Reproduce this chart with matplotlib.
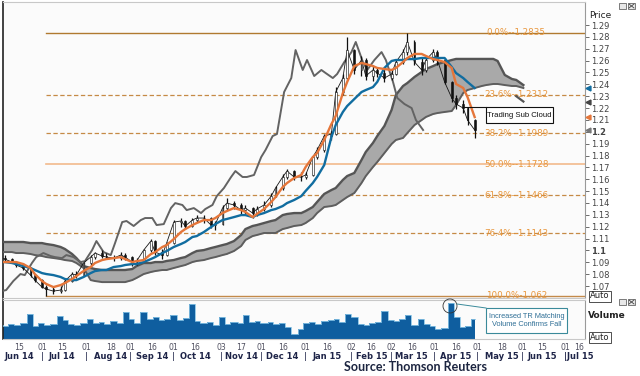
import matplotlib
matplotlib.use("Agg")
import matplotlib.pyplot as plt
import matplotlib.dates as mdates
import numpy as np
import pandas as pd
from matplotlib.patches import Rectangle, Ellipse
from matplotlib.transforms import blended_transform_factory

# ---------------- data ----------------
dates = pd.bdate_range('2014-06-02', '2015-04-29')[::3]
cloud_dates = pd.bdate_range('2014-06-02', '2015-06-02')[::3]

close = [1.0935, 1.0927, 1.0902, 1.0877, 1.0851, 1.0792, 1.0750, 1.0691, 1.0674, 1.0657,
         1.0666, 1.0742, 1.0801, 1.0792, 1.0894, 1.0944, 1.0978, 1.0953, 1.0944, 1.0935,
         1.0961, 1.0944, 1.0902, 1.0910, 1.1003, 1.1079, 1.0986, 1.0961, 1.1062, 1.1239,
         1.1248, 1.1206, 1.1256, 1.1273, 1.1273, 1.1214, 1.1222, 1.1357, 1.1399, 1.1383,
         1.1340, 1.1357, 1.1315, 1.1349, 1.1383, 1.1458, 1.1526, 1.1619, 1.1669, 1.1619,
         1.1619, 1.1636, 1.1787, 1.1846, 1.1964, 1.1981, 1.2335, 1.2453, 1.2689, 1.2521,
         1.2605, 1.2470, 1.2521, 1.2495, 1.2453, 1.2487, 1.2588, 1.2672, 1.2757, 1.2588,
         1.2521, 1.2605, 1.2672, 1.2605, 1.2420, 1.2285, 1.2234, 1.2200, 1.2099, 1.2015]

high = [1.0950, 1.0960, 1.0940, 1.0915, 1.0890, 1.0860, 1.0800, 1.0760, 1.0705, 1.0690,
        1.0700, 1.0760, 1.0815, 1.0830, 1.0905, 1.0965, 1.0990, 1.1000, 1.0975, 1.0960,
        1.0985, 1.0975, 1.0950, 1.0935, 1.1015, 1.1100, 1.1090, 1.1010, 1.1075, 1.1255,
        1.1270, 1.1260, 1.1275, 1.1300, 1.1295, 1.1285, 1.1250, 1.1380, 1.1440, 1.1420,
        1.1400, 1.1385, 1.1370, 1.1375, 1.1420, 1.1480, 1.1545, 1.1640, 1.1690, 1.1680,
        1.1660, 1.1665, 1.1800, 1.1870, 1.1985, 1.2010, 1.2380, 1.2490, 1.2795, 1.2700,
        1.2640, 1.2620, 1.2560, 1.2550, 1.2530, 1.2520, 1.2610, 1.2700, 1.2835, 1.2770,
        1.2620, 1.2640, 1.2700, 1.2690, 1.2620, 1.2430, 1.2310, 1.2265, 1.2210, 1.2110]

low = [1.0905, 1.0915, 1.0890, 1.0860, 1.0835, 1.0780, 1.0735, 1.0680, 1.0620, 1.0630,
       1.0640, 1.0660, 1.0735, 1.0770, 1.0785, 1.0880, 1.0925, 1.0940, 1.0925, 1.0915,
       1.0920, 1.0920, 1.0870, 1.0880, 1.0900, 1.0990, 1.0960, 1.0930, 1.0955, 1.1050,
       1.1200, 1.1180, 1.1195, 1.1240, 1.1230, 1.1190, 1.1170, 1.1215, 1.1340, 1.1345,
       1.1310, 1.1300, 1.1270, 1.1290, 1.1330, 1.1370, 1.1450, 1.1510, 1.1600, 1.1590,
       1.1585, 1.1600, 1.1630, 1.1770, 1.1830, 1.1930, 1.1970, 1.2310, 1.2440, 1.2490,
       1.2470, 1.2440, 1.2430, 1.2465, 1.2420, 1.2440, 1.2480, 1.2570, 1.2650, 1.2560,
       1.2480, 1.2500, 1.2590, 1.2560, 1.2400, 1.2250, 1.2190, 1.2160, 1.2060, 1.1950]

tenkan = [1.0902, 1.0902, 1.0902, 1.0902, 1.0885, 1.0851, 1.0801, 1.0742, 1.0717, 1.0691,
          1.0708, 1.0725, 1.0759, 1.0784, 1.0826, 1.0860, 1.0894, 1.0919, 1.0927, 1.0935,
          1.0944, 1.0927, 1.0902, 1.0910, 1.0919, 1.0969, 1.0986, 1.1029, 1.1045, 1.1096,
          1.1155, 1.1180, 1.1214, 1.1231, 1.1256, 1.1256, 1.1273, 1.1315, 1.1332, 1.1357,
          1.1340, 1.1324, 1.1281, 1.1307, 1.1349, 1.1408, 1.1450, 1.1534, 1.1568, 1.1610,
          1.1636, 1.1703, 1.1787, 1.1821, 1.1931, 1.2065, 1.2133, 1.2327, 1.2420, 1.2554,
          1.2580, 1.2571, 1.2554, 1.2538, 1.2529, 1.2521, 1.2538, 1.2588, 1.2622, 1.2656,
          1.2656, 1.2639, 1.2613, 1.2605, 1.2588, 1.2538, 1.2403, 1.2369, 1.2293, 1.2124]

kijun = [1.0902, 1.0902, 1.0894, 1.0885, 1.0868, 1.0851, 1.0835, 1.0809, 1.0801, 1.0792,
         1.0776, 1.0759, 1.0750, 1.0750, 1.0776, 1.0809, 1.0826, 1.0835, 1.0835, 1.0860,
         1.0868, 1.0877, 1.0885, 1.0885, 1.0902, 1.0927, 1.0944, 1.0978, 1.0995, 1.1029,
         1.1054, 1.1071, 1.1113, 1.1121, 1.1155, 1.1197, 1.1222, 1.1256, 1.1265, 1.1281,
         1.1298, 1.1298, 1.1281, 1.1298, 1.1315, 1.1340, 1.1349, 1.1374, 1.1399, 1.1425,
         1.1458, 1.1501, 1.1568, 1.1619, 1.1720, 1.1956, 1.2057, 1.2167, 1.2217, 1.2276,
         1.2335, 1.2352, 1.2377, 1.2420, 1.2538, 1.2597, 1.2605, 1.2605, 1.2613, 1.2613,
         1.2622, 1.2622, 1.2622, 1.2622, 1.2622, 1.2546, 1.2495, 1.2453, 1.2420, 1.2369]

span_a = [1.1071, 1.1071, 1.1071, 1.1071, 1.1071, 1.1062, 1.1062, 1.1062, 1.1054, 1.1045,
          1.1029, 1.1012, 1.0970, 1.0936, 1.0868, 1.0852, 1.0843, 1.0835, 1.0835, 1.0835,
          1.0835, 1.0835, 1.0843, 1.0868, 1.0894, 1.0894, 1.0902, 1.0902, 1.0911, 1.0919,
          1.0936, 1.0944, 1.0978, 1.0995, 1.1003, 1.1020, 1.1029, 1.1045, 1.1054, 1.1079,
          1.1130, 1.1180, 1.1206, 1.1214, 1.1231, 1.1248, 1.1256, 1.1298, 1.1307, 1.1315,
          1.1315, 1.1332, 1.1366, 1.1408, 1.1476, 1.1509, 1.1526, 1.1594, 1.1627, 1.1653,
          1.1762, 1.1830, 1.1906, 1.1964, 1.2049, 1.2184, 1.2310, 1.2386, 1.2411, 1.2462,
          1.2504, 1.2529, 1.2554, 1.2571, 1.2588, 1.2605, 1.2614, 1.2614, 1.2614, 1.2614,
          1.2614, 1.2614, 1.2614, 1.2597, 1.2479, 1.2445, 1.2437, 1.2394]

span_b = [1.0986, 1.0986, 1.0986, 1.0978, 1.0978, 1.0970, 1.0961, 1.0953, 1.0944, 1.0936,
          1.0927, 1.0919, 1.0911, 1.0894, 1.0852, 1.0750, 1.0742, 1.0733, 1.0733, 1.0733,
          1.0733, 1.0733, 1.0750, 1.0768, 1.0801, 1.0818, 1.0826, 1.0835, 1.0835, 1.0852,
          1.0868, 1.0877, 1.0902, 1.0911, 1.0919, 1.0936, 1.0944, 1.0961, 1.0970, 1.0995,
          1.1037, 1.1088, 1.1121, 1.1130, 1.1147, 1.1147, 1.1147, 1.1180, 1.1189, 1.1206,
          1.1214, 1.1231, 1.1273, 1.1315, 1.1366, 1.1374, 1.1383, 1.1425, 1.1450, 1.1484,
          1.1568, 1.1627, 1.1703, 1.1745, 1.1821, 1.1897, 1.1931, 1.1948, 1.1990, 1.2057,
          1.2099, 1.2125, 1.2150, 1.2158, 1.2167, 1.2175, 1.2226, 1.2327, 1.2352, 1.2369,
          1.2386, 1.2394, 1.2403, 1.2403, 1.2394, 1.2386, 1.2386, 1.2369]

span_tail = [1.2300, 1.2255]

volume = [14, 13, 15, 14, 16, 25, 13, 16, 14, 15, 23, 19, 15, 14, 16, 20, 16, 17, 15, 18,
          16, 27, 20, 16, 27, 20, 22, 19, 20, 24, 19, 21, 35, 18, 16, 17, 14, 22, 15, 17,
          16, 24, 17, 18, 16, 17, 15, 16, 12, 5, 10, 16, 17, 15, 18, 19, 20, 17, 25, 22,
          15, 14, 16, 17, 28, 19, 18, 20, 24, 14, 20, 15, 13, 10, 11, 36, 22, 12, 13, 20]

fib_pct = ['0.0%', '23.6%', '38.2%', '50.0%', '61.8%', '76.4%', '100.0%']
fib_val = [1.2835, 1.2312, 1.1989, 1.1728, 1.1466, 1.1143, 1.062]

day_ticks = ['2014-06-15', '2014-07-01', '2014-07-15', '2014-08-01', '2014-08-18', '2014-09-01',
             '2014-09-16', '2014-10-01', '2014-10-16', '2014-11-03', '2014-11-17', '2014-12-01',
             '2014-12-16', '2015-01-01', '2015-01-16', '2015-02-02', '2015-02-16', '2015-03-02',
             '2015-03-16', '2015-04-01', '2015-04-16', '2015-05-01', '2015-05-18', '2015-06-01',
             '2015-06-15', '2015-07-01', '2015-07-16']
month_ticks = ['2014-06-15', '2014-07-15', '2014-08-18', '2014-09-16', '2014-10-16', '2014-11-17',
               '2014-12-16', '2015-01-16', '2015-02-16', '2015-03-16', '2015-04-16', '2015-05-18',
               '2015-06-15']
month_starts = ['2014-07-01', '2014-08-01', '2014-09-01', '2014-10-01', '2014-11-03', '2014-12-01',
                '2015-01-01', '2015-02-02', '2015-03-02', '2015-04-01', '2015-05-01', '2015-06-01']
last_month = '2015-07-01'

# ---------------- figure ----------------
W, H = 640, 376
fig = plt.figure(figsize=(6.4, 3.76), dpi=100)
fig.patch.set_facecolor('white')

def box(l, t, r, b):
    return [l / W, 1 - b / H, (r - l) / W, (b - t) / H]

ax = fig.add_axes(box(3, 2, 585, 298))
axv = fig.add_axes(box(3, 300, 585, 339))
ov = fig.add_axes([0, 0, 1, 1], zorder=10)
ov.set_xlim(0, W); ov.set_ylim(H, 0); ov.axis('off'); ov.patch.set_alpha(0)

x = mdates.date2num(dates)
xc = mdates.date2num(cloud_dates)
x_lag = mdates.date2num(dates - pd.offsets.BDay(26))
x0 = mdates.date2num(pd.Timestamp('2014-06-02'))
xlim = (x0 + 1.8, x0 + 408)

for a in (ax, axv):
    a.set_xlim(*xlim)
    a.set_facecolor('#fbfbfb')
    a.set_xticks([])
    for s in ('top', 'bottom', 'right'):
        a.spines[s].set_color('#c8c8c8')
        a.spines[s].set_linewidth(0.8)
    a.spines['left'].set_color('#222222')
    a.spines['left'].set_linewidth(1.2)
ax.spines['right'].set_color('#9a9a9a')
axv.spines['right'].set_color('#9a9a9a')

ax.set_ylim(1.0599, 1.3094)

# Fibonacci levels
x_fib0 = x[int(np.argmin(low))]
fib_style = {'0.0%': ('-', '#b07a30', 1.0), '50.0%': ('-', '#f2b98c', 1.2), '100.0%': ('-', '#c38a4a', 1.0)}
for pct, val in zip(fib_pct, fib_val):
    ls, col, lw = fib_style.get(pct, ('--', '#c58a45', 0.9))
    line, = ax.plot([x_fib0, xlim[1]], [val, val], ls, color=col, lw=lw, zorder=1)
    if ls == '--':
        line.set_dashes((3.5, 2))
    lab = f"{pct}--{val}" if pct != '100.0%' else f"{pct}-{val}"
    ax.text(xlim[1] - 48, val, lab, color='#e8963c', fontsize=6.3, ha='center', va='center', zorder=2)

# Cloud
ax.fill_between(xc, span_a, span_b, color='#a9a9a9', lw=0, zorder=2)
ax.plot(xc, span_a, color='#555555', lw=1.7, zorder=3)
ax.plot(xc, span_b, color='#5e5e5e', lw=1.4, zorder=3)
ax.plot(xc[-2:], span_tail, color='#555555', lw=1.6, zorder=3)

# Lagging span
ax.plot(x_lag, close, color='#636363', lw=1.4, zorder=4)

# Candles
opens = [close[0]] + close[:-1]
ax.plot(x, close, color='#151515', lw=0.6, zorder=5)
ax.vlines(x, low, high, color='#111111', lw=0.9, zorder=5)
body_col = ['white' if c >= o else '#111111' for o, c in zip(opens, close)]
ax.bar(x, np.array(close) - np.array(opens), bottom=opens, width=1.3, color=body_col,
       edgecolor='#111111', lw=0.4, zorder=5)

# Kijun / Tenkan
ax.plot(x, kijun, color='#116da0', lw=1.7, zorder=6)
ax.plot(x, tenkan, color='#e5763a', lw=1.7, zorder=7)

# price axis
ax.yaxis.set_ticks_position('right')
yt = np.round(np.arange(1.07, 1.2951, 0.01), 2)
ax.set_yticks(yt)
labs = [(f"{v:.1f}" if abs(v * 10 - round(v * 10)) < 1e-6 else f"{v:.2f}") for v in yt]
ax.set_yticklabels(labs)
for t, v in zip(ax.get_yticklabels(), yt):
    if abs(v * 10 - round(v * 10)) < 1e-6:
        t.set_fontweight('bold')
ax.tick_params(axis='y', direction='out', length=3, width=0.6, colors='#555555', labelsize=6, pad=1.5)
for t in ax.get_yticklabels():
    t.set_color('#444444')

# last value markers
mk_tr = blended_transform_factory(ax.transAxes, ax.transData)
for val, col in [(kijun[-1], '#116da0'), (span_tail[-1], '#444444'), (tenkan[-1], '#e5763a'), (close[-1], '#777777')]:
    ax.plot([1.006], [val], marker='<', ms=3.5, color=col, transform=mk_tr, clip_on=False, zorder=8)

# Volume
axv.set_ylim(0, 38.5)
axv.set_yticks([])
axv.fill_between(x, volume, 0, step='mid', color='#0f5e9f', lw=0, zorder=2)
axv.step(x, volume, where='mid', color='#86c2e4', lw=0.6, zorder=3)

# ---------- annotations / decorations (pixel overlay) ----------
ov.plot([463, 486], [107, 107], color='#111111', lw=0.8)
ov.add_patch(Rectangle((486, 107), 67, 16, facecolor='white', edgecolor='#111111', lw=0.8))
ov.text(519.5, 115.5, 'Trading Sub Cloud', fontsize=5.6, ha='center', va='center', color='#111111',
        family='Liberation Sans')

ov.add_patch(Ellipse((450, 306), 14, 14, facecolor='none', edgecolor='#333333', lw=0.6))
ov.plot([457, 486], [304, 308], color='#3a8a9a', lw=0.7)
ov.add_patch(Rectangle((486, 308), 81, 25, facecolor='white', edgecolor='#3a8a9a', lw=0.8))
ov.text(526.5, 320.5, 'Increased TR Matching\nVolume Confirms Fall', fontsize=5.3, ha='center',
        va='center', color='#2f6f96', linespacing=1.35, family='Liberation Sans')

ov.text(589, 16, 'Price', fontsize=6.5, ha='left', va='center', color='#222222')
ov.text(588, 315, 'Volume', fontsize=6.5, ha='left', va='center', color='#222222', fontweight='bold')
for yy in (296, 337):
    ov.text(590, yy, 'Auto', fontsize=6, ha='left', va='center', color='#222222',
            bbox=dict(boxstyle='square,pad=0.12', facecolor='white', edgecolor='#333333', lw=0.6))
for (ix, iy) in [(619, 3), (628, 3), (619, 299), (628, 299)]:
    ov.add_patch(Rectangle((ix, iy), 7, 6, facecolor='#e8e8e8', edgecolor='#666666', lw=0.6))
for ix, iy in [(628, 3), (628, 299)]:
    ov.plot([ix + 1, ix + 6], [iy + 1, iy + 5], color='#444444', lw=0.6)
    ov.plot([ix + 1, ix + 6], [iy + 5, iy + 1], color='#444444', lw=0.6)

# date labels
tr = blended_transform_factory(axv.transData, ov.transData)
for d in day_ticks:
    xd = min(mdates.date2num(pd.Timestamp(d)), xlim[1] - 4)
    ov.text(xd, 348, pd.Timestamp(d).strftime('%d'), transform=tr, fontsize=5.6, ha='center',
            va='center', color='#505060')
for d in month_ticks:
    ov.text(mdates.date2num(pd.Timestamp(d)), 356.5, pd.Timestamp(d).strftime('%b %y'), transform=tr,
            fontsize=6, ha='center', va='center', color='#1e2448', fontweight='bold')
for d in month_starts:
    ov.text(mdates.date2num(pd.Timestamp(d)), 356.5, '|', transform=tr, fontsize=6, ha='center',
            va='center', color='#1e2448')
ov.text(mdates.date2num(pd.Timestamp(last_month)) - 0.6, 356.5,
        '|' + pd.Timestamp(last_month).strftime('%b %y'), transform=tr, fontsize=6, ha='left',
        va='center', color='#1e2448', fontweight='bold')

ov.text(416, 367, 'Source: Thomson Reuters', fontsize=9, ha='center', va='center',
        color='#1c2540', fontweight='bold', family='Lato')

fig.savefig('out.png', dpi=100)
